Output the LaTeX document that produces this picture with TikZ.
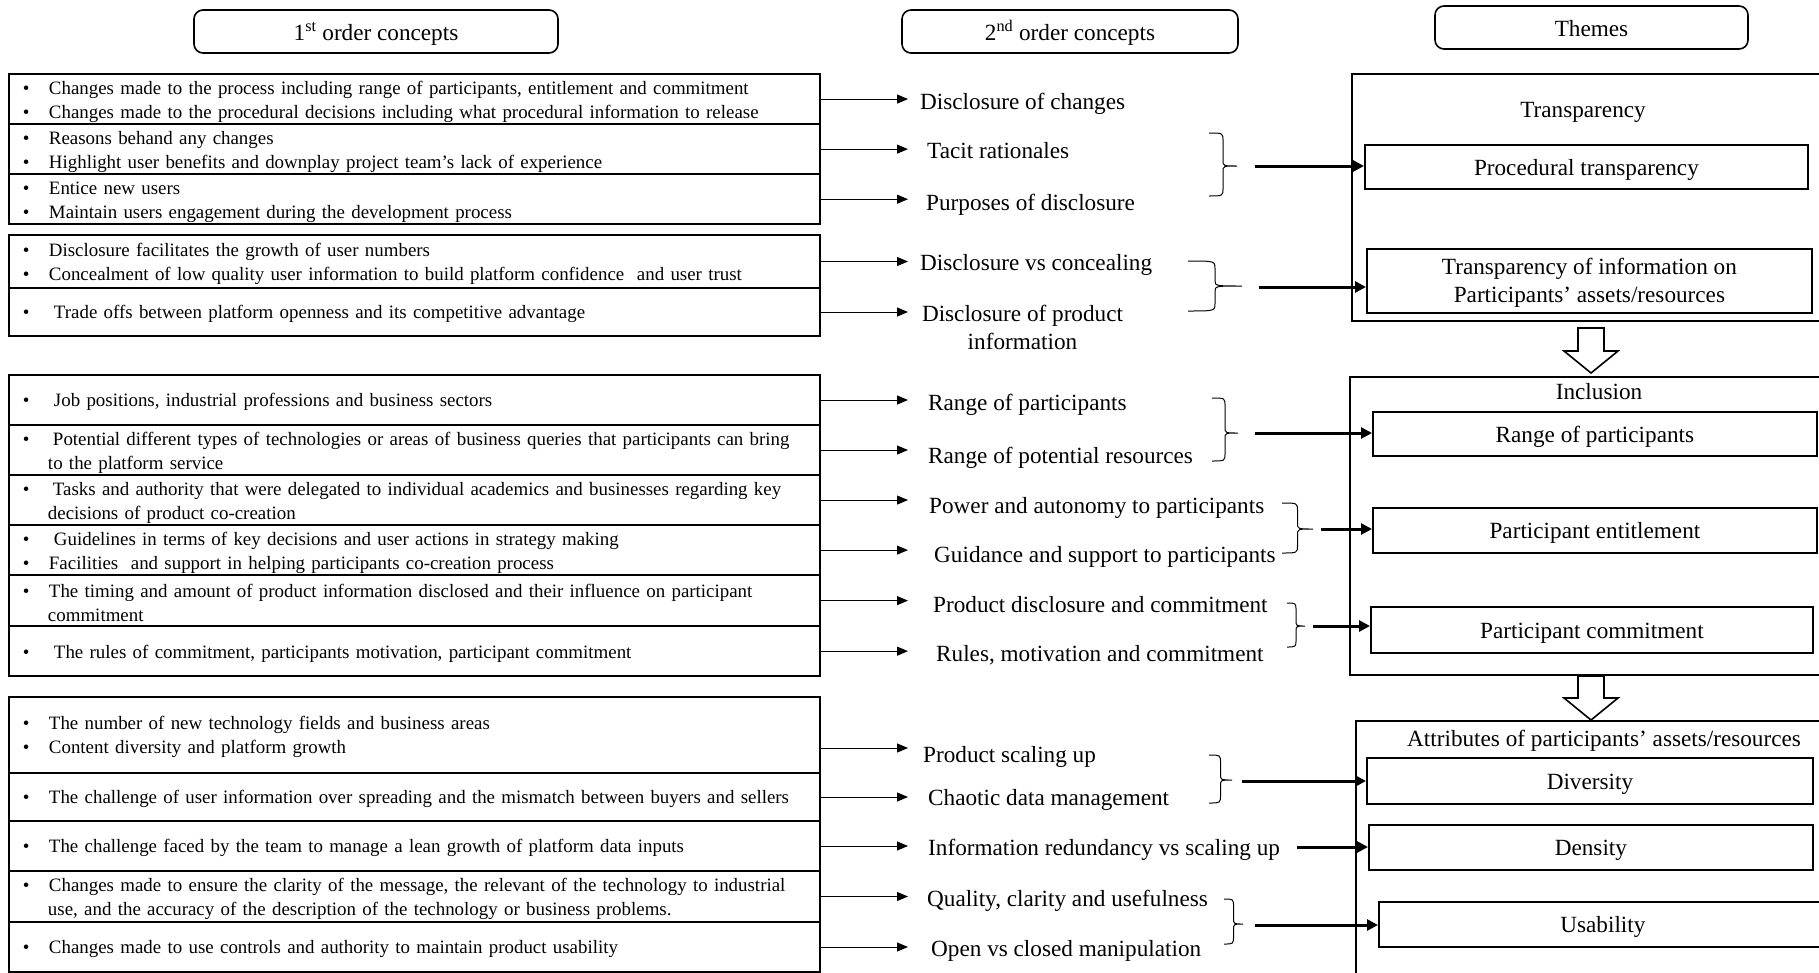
\documentclass[tikz,border=0pt]{standalone}
\usepackage{fontspec}
\setmainfont{Liberation Serif}
\usetikzlibrary{positioning, arrows.meta}

\newcommand{\firstsize}{\fontsize{18.9}{24}\selectfont}
\newcommand{\secondsize}{\fontsize{23.2}{28}\selectfont}
\newcommand{\bul}{\rule{0pt}{18pt}\makebox[40pt][l]{\hspace{14pt}\textbullet}}
\newcommand{\cnt}{\hspace*{39pt}}
% curly bracket pointing right: arm x, tip x, top y, bottom y, tip y
\newcommand{\curly}[5]{%
  \draw[curlyline] (#1,#3) .. controls ({(#1+#2)/2},#3) .. ({(#1+#2)/2},#3+8)
    -- ({(#1+#2)/2},#5-6) .. controls ({(#1+#2)/2},#5) .. (#2,#5)
    .. controls ({(#1+#2)/2},#5) .. ({(#1+#2)/2},#5+6)
    -- ({(#1+#2)/2},#4-8) .. controls ({(#1+#2)/2},#4) .. (#1,#4);}

\tikzstyle{header} = [
    rectangle,
    rounded corners=9pt,
    minimum height=43pt,
    text height=18pt,
    text depth=0pt,
    draw=black,
    line width=1.6pt,
    font=\secondsize
]
\tikzstyle{firstorder} = [
    rectangle,
    text width=811pt,
    inner xsep=0pt,
    inner ysep=2pt,
    outer sep=0pt,
    align=left,
    draw=black,
    line width=1.8pt,
    font=\firstsize
]
\tikzstyle{secondorder} = [
    inner sep=0pt,
    anchor=base west,
    font=\secondsize
]
\tikzstyle{themeframe} = [
    rectangle,
    anchor=north west,
    draw=black,
    line width=1.8pt
]
\tikzstyle{themetitle} = [inner sep=0pt, anchor=base, font=\secondsize]
\tikzstyle{theme} = [
    rectangle,
    anchor=north west,
    align=center,
    draw=black,
    line width=1.8pt,
    font=\secondsize
]
\tikzstyle{themeline} = [theme, text height=17pt, text depth=0pt]
\tikzstyle{thinarrow} = [line width=1pt, -{Triangle[length=11pt,width=9pt]}]
\tikzstyle{thickarrow} = [line width=3pt, -{Triangle[length=11pt,width=11pt]}]
\tikzstyle{curlyline} = [line width=1pt]
\tikzstyle{blockarrow} = [draw=black, line width=1.6pt, fill=white]

\begin{document}
\begin{tikzpicture}[x=1pt, y=-1pt]

\useasboundingbox (0,0) rectangle (1819,972);

% headings
\node (head1) [header, minimum width=364pt] at (376,31.5) {1\textsuperscript{st} order concepts};
\node (head2) [header, minimum width=336pt] at (1070,31.5) {2\textsuperscript{nd} order concepts};
\node (head3) [header, minimum width=313pt] at (1591.5,27.5) {Themes};

% 1st order concepts
\node (r11) [firstorder, minimum height=50pt, anchor=north west] at (9,74)
{\bul Changes made to the process including range of participants, entitlement and commitment\\
\bul Changes made to the procedural decisions including what procedural information to release};
\node (r12) [firstorder, minimum height=50pt, below=0pt of r11]
{\bul Reasons behand any changes\\
\bul Highlight user benefits and downplay project team’s lack of experience};
\node (r13) [firstorder, minimum height=50pt, below=0pt of r12]
{\bul Entice new users\\
\bul Maintain users engagement during the development process};

\node (r21) [firstorder, minimum height=53pt, anchor=north west] at (9,235)
{\bul Disclosure facilitates the growth of user numbers\\
\bul Concealment of low quality user information to build platform confidence\ \ and user trust};
\node (r22) [firstorder, minimum height=48pt, below=0pt of r21]
{\bul\hspace{5pt}Trade offs between platform openness and its competitive advantage};

\node (r31) [firstorder, minimum height=50pt, anchor=north west] at (9,375)
{\bul\hspace{5pt}Job positions, industrial professions and business sectors};
\node (r32) [firstorder, minimum height=48pt, below=0pt of r31]
{\bul\hspace{4pt}Potential different types of technologies or areas of business queries that participants can bring\\
\cnt to the platform service};
\node (r33) [firstorder, minimum height=50pt, below=0pt of r32]
{\bul\hspace{4pt}Tasks and authority that were delegated to individual academics and businesses regarding key\\
\cnt decisions of product co-creation};
\node (r34) [firstorder, minimum height=50pt, below=0pt of r33]
{\bul\hspace{5pt}Guidelines in terms of key decisions and user actions in strategy making\\
\bul Facilities\ \ and support in helping participants co-creation process};
\node (r35) [firstorder, minimum height=51pt, below=0pt of r34]
{\bul The timing and amount of product information disclosed and their influence on participant\\
\cnt commitment};
\node (r36) [firstorder, minimum height=50pt, below=0pt of r35]
{\bul\hspace{5pt}The rules of commitment, participants motivation, participant commitment};

\node (r41) [firstorder, minimum height=76pt, anchor=north west] at (9,697)
{\bul The number of new technology fields and business areas\\
\bul Content diversity and platform growth};
\node (r42) [firstorder, minimum height=48pt, below=0pt of r41]
{\bul The challenge of user information over spreading and the mismatch between buyers and sellers};
\node (r43) [firstorder, minimum height=50pt, below=0pt of r42]
{\bul The challenge faced by the team to manage a lean growth of platform data inputs};
\node (r44) [firstorder, minimum height=51pt, below=0pt of r43]
{\bul Changes made to ensure the clarity of the message, the relevant of the technology to industrial\\
\cnt use, and the accuracy of the description of the technology or business problems.};
\node (r45) [firstorder, minimum height=50pt, below=0pt of r44]
{\bul Changes made to use controls and authority to maintain product usability};

% 2nd order concepts
\node (m1) [secondorder] at (920,109) {Disclosure of changes};
\node (m2) [secondorder] at (927,158) {Tacit rationales};
\node (m3) [secondorder] at (926,210) {Purposes of disclosure};
\node (m4) [secondorder] at (920,270) {Disclosure vs concealing};
\node (m5) [secondorder, align=center, anchor=north] at (1022.5,305) {Disclosure of product\\information};
\node (m6) [secondorder] at (928,410) {Range of participants};
\node (m7) [secondorder] at (928,463) {Range of potential resources};
\node (m8) [secondorder] at (929,513) {Power and autonomy to participants};
\node (m9) [secondorder] at (934,562) {Guidance and support to participants};
\node (m10) [secondorder] at (933,612) {Product disclosure and commitment};
\node (m11) [secondorder] at (936,661) {Rules, motivation and commitment};
\node (m12) [secondorder] at (923,762) {Product scaling up};
\node (m13) [secondorder] at (928,805) {Chaotic data management};
\node (m14) [secondorder] at (928,855) {Information redundancy vs scaling up};
\node (m15) [secondorder] at (927,906) {Quality, clarity and usefulness};
\node (m16) [secondorder] at (931,956) {Open vs closed manipulation};

\coordinate (tip) at (908,0);
\coordinate (r41a) at ([yshift=-13pt]r41.east);

\draw [thinarrow] (r11.east) -- (r11.east -| tip);
\draw [thinarrow] (r12.east) -- (r12.east -| tip);
\draw [thinarrow] (r13.east) -- (r13.east -| tip);
\draw [thinarrow] (r21.east) -- (r21.east -| tip);
\draw [thinarrow] (r22.east) -- (r22.east -| tip);
\draw [thinarrow] (r31.east) -- (r31.east -| tip);
\draw [thinarrow] (r32.east) -- (r32.east -| tip);
\draw [thinarrow] (r33.east) -- (r33.east -| tip);
\draw [thinarrow] (r34.east) -- (r34.east -| tip);
\draw [thinarrow] (r35.east) -- (r35.east -| tip);
\draw [thinarrow] (r36.east) -- (r36.east -| tip);
\draw [thinarrow] (r41a) -- (r41a -| tip);
\draw [thinarrow] (r42.east) -- (r42.east -| tip);
\draw [thinarrow] (r43.east) -- (r43.east -| tip);
\draw [thinarrow] (r44.east) -- (r44.east -| tip);
\draw [thinarrow] (r45.east) -- (r45.east -| tip);

% brackets
\curly{1209}{1237}{133}{196}{166}
\curly{1188}{1242}{261}{311}{286}
\curly{1212}{1238}{398}{461}{433}
\curly{1282}{1313}{503}{553}{529}
\curly{1287}{1305}{603}{647}{626}
\curly{1209}{1232}{755}{803}{780}
\curly{1224}{1243}{899}{944}{924}

% themes
\node (trans) [themeframe, minimum width=474pt, minimum height=247pt] at (1351,73) {};
\node (transt) [themetitle] at (1583,117) {Transparency};
\node (p1) [themeline, minimum width=443pt, minimum height=44pt] at (1364,144) {Procedural transparency};
\node (p2) [theme, minimum width=445pt, minimum height=64pt] at (1366,248)
{\rule{0pt}{20pt}Transparency of information on\\Participants’ assets/resources};

\node (incl) [themeframe, minimum width=476pt, minimum height=298pt] at (1349,376) {};
\node (inclt) [themetitle] at (1599,399) {Inclusion};
\node (p3) [themeline, minimum width=444pt, minimum height=44pt] at (1372,411) {Range of participants};
\node (p4) [themeline, minimum width=444pt, minimum height=45pt] at (1372,507) {Participant entitlement};
\node (p5) [themeline, minimum width=442pt, minimum height=46pt] at (1370,606) {Participant commitment};

\node (attr) [themeframe, minimum width=470pt, minimum height=270pt] at (1355,720) {};
\node (attrt) [themetitle] at (1604,746) {Attributes of participants’ assets/resources};
\node (p6) [themeline, minimum width=446pt, minimum height=46pt] at (1366,757) {Diversity};
\node (p7) [themeline, minimum width=444pt, minimum height=45pt] at (1368,824) {Density};
\node (p8) [themeline, minimum width=448pt, minimum height=45pt] at (1378,901) {Usability};

% block arrows between themes
\coordinate (d1) at (1591,328);
\coordinate (d2) at (1591,676);
\draw [blockarrow] (d1) ++(-13,0) -- ++(26,0) -- ++(0,23) -- ++(14,0) -- ++(-27,22) -- ++(-27,-22) -- ++(14,0) -- cycle;
\draw [blockarrow] (d2) ++(-13,0) -- ++(26,0) -- ++(0,22) -- ++(14,0) -- ++(-27,22) -- ++(-27,-22) -- ++(14,0) -- cycle;

% thick arrows
\coordinate (s1) at (1255,166);
\coordinate (s2) at (1259,287);
\coordinate (s3) at (1255,433);
\coordinate (s4) at (1321,529);
\coordinate (s5) at (1313,626);
\coordinate (s6) at (1242,781);
\coordinate (s7) at (1297,847);
\coordinate (s8) at (1255,925);

\draw [thickarrow] (s1) -- (s1 -| p1.west);
\draw [thickarrow] (s2) -- (s2 -| p2.west);
\draw [thickarrow] (s3) -- (s3 -| p3.west);
\draw [thickarrow] (s4) -- (s4 -| p4.west);
\draw [thickarrow] (s5) -- (s5 -| p5.west);
\draw [thickarrow] (s6) -- (s6 -| p6.west);
\draw [thickarrow] (s7) -- (s7 -| p7.west);
\draw [thickarrow] (s8) -- (s8 -| p8.west);

\end{tikzpicture}
\end{document}
